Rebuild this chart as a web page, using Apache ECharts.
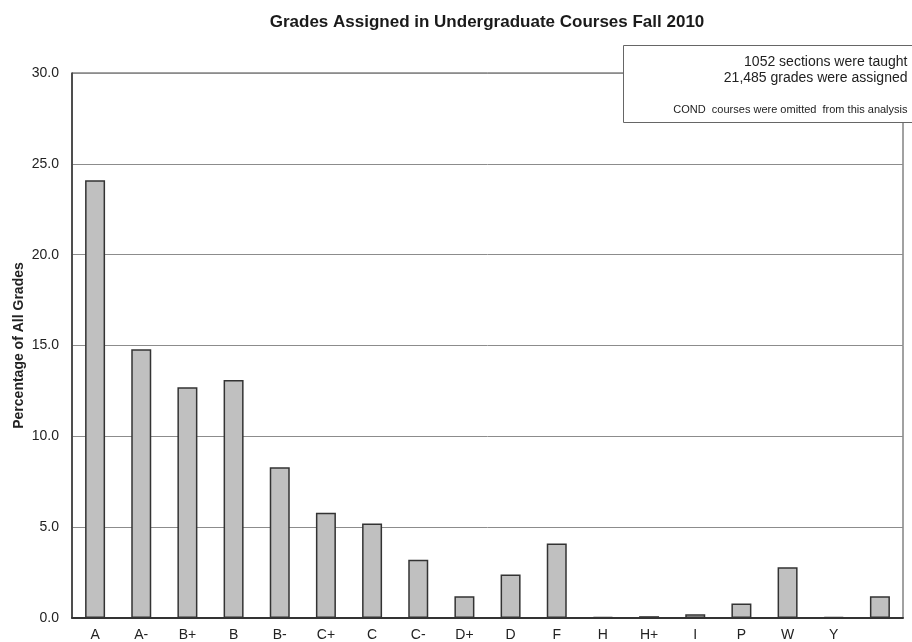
<!DOCTYPE html>
<html>
<head>
<meta charset="utf-8">
<script src="https://cdn.jsdelivr.net/npm/echarts@6/dist/echarts.min.js"></script>
<style>
  html, body { margin: 0; padding: 0; background: #fff; }
  #chart { width: 912px; height: 642px; }
</style>
</head>
<body>
<div id="chart"></div>
<script>
// Grade categories and share of all grades (percent)
const grades = ['A', 'A-', 'B+', 'B', 'B-', 'C+', 'C', 'C-', 'D+', 'D', 'F', 'H', 'H+', 'I', 'P', 'W', 'Y', ''];
const percentages = [24.1, 14.8, 12.7, 13.1, 8.3, 5.8, 5.2, 3.2, 1.2, 2.4, 4.1, 0.05, 0.1, 0.2, 0.8, 2.8, 0.05, 1.2];
const yTicks = [0, 5, 10, 15, 20, 25, 30];

const FONT = '"Liberation Sans", Arial, sans-serif';
const chart = echarts.init(document.getElementById('chart'), null, { renderer: 'canvas' });

chart.setOption({
  animation: false,
  backgroundColor: '#ffffff',
  textStyle: { fontFamily: FONT },
  title: {
    text: 'Grades Assigned in Undergraduate Courses Fall 2010',
    left: 482,
    top: 9,
    textAlign: 'center',
    textStyle: { fontFamily: FONT, fontSize: 17, fontWeight: 'bold', color: '#1a1a1a' }
  },
  grid: { left: 72, right: 9, top: 73, bottom: 24, show: true, borderColor: '#444', borderWidth: 1 },
  xAxis: {
    type: 'category',
    data: grades,
    axisTick: { show: false },
    axisLine: { lineStyle: { color: '#333', width: 2 } },
    axisLabel: { color: '#222', fontSize: 14, margin: 10, fontFamily: FONT }
  },
  yAxis: {
    type: 'value',
    min: yTicks[0],
    max: yTicks[yTicks.length - 1],
    interval: 5,
    name: 'Percentage of All Grades',
    nameLocation: 'middle',
    nameGap: 46,
    nameMoveOverlap: false,
    nameTextStyle: { fontFamily: FONT, fontSize: 14, fontWeight: 'bold', color: '#222' },
    axisLine: { show: true, lineStyle: { color: '#333', width: 1.5 } },
    axisTick: { show: false },
    axisLabel: { color: '#222', fontSize: 14, margin: 13, formatter: v => v.toFixed(1), fontFamily: FONT },
    splitLine: { lineStyle: { color: '#8c8c8c', width: 1 } }
  },
  series: [{
    type: 'bar',
    data: percentages,
    barWidth: 20,
    itemStyle: { color: '#c0c0c0', borderColor: '#333', borderWidth: 1.5 }
  }],
  graphic: [{
    type: 'group',
    left: 623,
    top: 45,
    z: 100,
    children: [
      { type: 'rect', z: 100, shape: { x: 0, y: 0, width: 292, height: 77 },
        style: { fill: '#fff', stroke: '#666', lineWidth: 1 } },
      { type: 'text', z: 101, x: 284, y: 10,
        style: { text: '1052 sections were taught', textAlign: 'right', fontFamily: FONT, fontSize: 14, fill: '#222' } },
      { type: 'text', z: 101, x: 284, y: 26,
        style: { text: '21,485 grades were assigned', textAlign: 'right', fontFamily: FONT, fontSize: 14, fill: '#222' } },
      { type: 'text', z: 101, x: 284, y: 59,
        style: { text: 'COND  courses were omitted  from this analysis', textAlign: 'right', fontFamily: FONT, fontSize: 11, fill: '#222' } }
    ]
  }]
});
</script>
</body>
</html>
